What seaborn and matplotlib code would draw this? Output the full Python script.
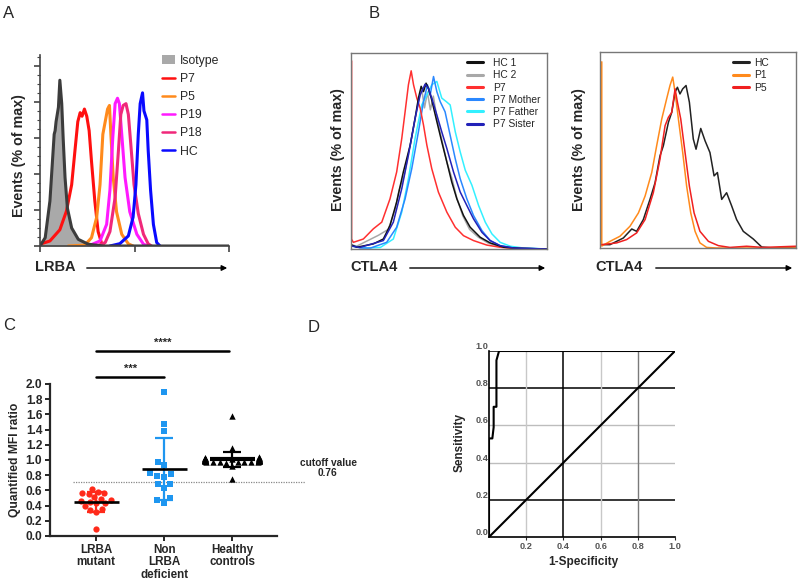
import numpy as np
import pandas as pd
import matplotlib
matplotlib.use("Agg")
import matplotlib.pyplot as plt
from matplotlib.patches import Patch
from matplotlib.lines import Line2D
from matplotlib.ticker import LogLocator, NullFormatter, MultipleLocator
import seaborn as sns

# ---- panel A: LRBA histograms (x in log10 decades, y in % of max)
iso_dec = [0.0, 0.11, 0.21, 0.30, 0.32, 0.34, 0.39, 0.42, 0.46, 0.49, 0.53, 0.58, 0.67, 0.81, 1.02, 1.34, 4.0]
iso_val = [0, 4.6, 25, 62, 64, 69, 77, 92, 79, 60, 38, 21, 10, 3.7, 1, 0, 0]
p7_dec = [0.0, 0.21, 0.42, 0.56, 0.67, 0.74, 0.80, 0.85, 0.89, 0.94, 0.99, 1.04, 1.09, 1.16, 1.23, 1.31, 1.36]
p7_val = [1, 2.8, 9, 19.4, 34, 53, 69, 74, 72, 76, 72, 64, 47, 25, 8, 1, 0]
p5_dec = [0.6, 0.95, 1.09, 1.20, 1.27, 1.33, 1.38, 1.43, 1.47, 1.50, 1.55, 1.62, 1.73, 1.87, 1.97]
p5_val = [0, 0.5, 4.6, 16, 34, 62, 69, 76, 78, 62, 38, 19, 6.5, 1.2, 0]
p19_dec = [1.02, 1.27, 1.41, 1.48, 1.54, 1.59, 1.64, 1.68, 1.73, 1.80, 1.90, 2.05, 2.19, 2.29]
p19_val = [0, 2.8, 12, 31, 60, 79, 82, 79, 62, 38, 19, 6.5, 1, 0]
p18_dec = [1.2, 1.38, 1.48, 1.59, 1.66, 1.71, 1.76, 1.82, 1.87, 1.92, 1.99, 2.08, 2.19, 2.29, 2.36]
p18_val = [0, 1.9, 8, 27, 53, 73, 78, 79, 73, 57, 34, 18, 6.5, 1.2, 0]
hcA_dec = [1.48, 1.69, 1.87, 1.97, 2.03, 2.08, 2.12, 2.17, 2.20, 2.26, 2.29, 2.34, 2.40, 2.47, 2.54]
hcA_val = [0, 1.3, 5.6, 16, 34, 62, 79, 85, 75, 70, 53, 31, 12, 1.9, 0]

# ---- panel B left: CTLA4 histograms
b1_p7_u = [0.3, 0.3, 1.2, 6.3, 11.4, 15.7, 19.9, 23.3, 25.9, 27.6, 29.3, 30.7, 31.9, 33.6, 35.3, 37.0, 38.7, 41.2, 44.6, 48.9, 53.2, 57.4, 62.5, 69.3, 76.0, 83.0, 100]
b1_p7_v = [96, 5, 3.4, 5.1, 10.3, 13.7, 25.6, 39.3, 56.4, 70, 83.8, 90.9, 83.8, 76.9, 71.8, 63.2, 53, 41, 29, 18.8, 11.1, 6.8, 4.3, 2, 0.9, 0.3, 0]
b1_hc1_u = [0.5, 3, 11.4, 16.5, 19.9, 23.3, 26.7, 30.2, 32.7, 34.4, 35.8, 37.0, 38.3, 39.5, 41.2, 43.8, 46.3, 48.9, 51.4, 54.0, 57.4, 60.8, 65.9, 71.0, 77.9, 86.4, 100]
b1_hc1_v = [2, 0.9, 2.6, 5.1, 12, 24, 39.3, 53, 66.7, 77, 83, 80.3, 84.6, 82, 76, 65, 54.7, 44.4, 34.2, 25.6, 17.1, 11.1, 6, 3.1, 0.9, 0.3, 0]
b1_hc2_u = [0.5, 3, 8, 14, 19, 22.5, 24.5, 27, 30, 32.5, 34.5, 36, 37.5, 39, 40.5, 42, 44, 46.5, 49, 51.5, 54, 57, 60.5, 65, 70, 77, 86, 100]
b1_hc2_v = [2, 1.5, 4, 7, 10, 20, 30, 37, 52, 65, 76, 82, 72, 80, 71, 78, 66, 55, 44, 36, 26, 17, 10, 6, 3, 1, 0.3, 0]
b1_mot_u = [0.5, 5, 10, 18.2, 23.3, 27.6, 31.0, 34.4, 37.0, 39.0, 40.4, 42.1, 43.8, 45.5, 48.0, 50.6, 53.2, 55.7, 59.1, 62.5, 66.8, 71.0, 76.1, 83.0, 100]
b1_mot_v = [1.5, 0.5, 0.5, 3.4, 11.1, 25.6, 41, 59.8, 75.2, 83.8, 78.6, 88, 80.3, 75.2, 70, 58, 46, 35.9, 25.6, 17.1, 9.4, 4.3, 1.7, 0.5, 0]
b1_fat_u = [0.5, 8, 15, 21.6, 25.9, 29.3, 32.7, 36.1, 38.7, 41.2, 43.8, 46.3, 48.6, 50.6, 53.2, 55.7, 58.3, 61.7, 65.1, 68.5, 71.9, 76.1, 81.3, 88, 100]
b1_fat_v = [1.5, 0.5, 0.8, 5.1, 18.8, 35.9, 56.4, 73.5, 78.6, 83.8, 85.5, 77, 75.2, 73.5, 59.8, 49.6, 40.2, 32.5, 22.2, 13.7, 7.7, 3.4, 1.4, 0.5, 0]
b1_sis_u = [0.5, 4.5, 16.5, 21.6, 25.9, 29.3, 32.7, 35.3, 37.8, 39.5, 41.2, 43.8, 46.3, 48.9, 52.3, 55.7, 59.1, 62.5, 66.8, 71.0, 76.1, 83.0, 100]
b1_sis_v = [1.5, 0.8, 4.3, 13.7, 30.8, 47.9, 66.7, 78.6, 84.1, 82, 77, 68.4, 59.8, 51.3, 39.3, 29.1, 22.2, 15.4, 8.5, 4.3, 1.7, 0.5, 0]

# ---- panel B right
b2_hc_u = [0.9, 5.1, 8.5, 11.9, 16.2, 18.7, 22.1, 25.5, 28.1, 30.6, 32.3, 34.9, 36.6, 38.3, 39.5, 40.8, 42.2, 43.9, 45.6, 47.6, 49.0, 51.4, 53.6, 56.1, 58.2, 59.9, 62.1, 64.6, 67.2, 69.7, 73.1, 78.2, 82.5, 88.4, 93.5, 100]
b2_hc_v = [1.7, 1.7, 3.4, 5.1, 9.7, 8.5, 14.5, 24.8, 33.3, 47, 52.1, 64.1, 69.2, 79.5, 82, 78.6, 81.2, 82.9, 74.4, 55.6, 50.4, 61, 54.7, 48.7, 36.8, 38.5, 24.8, 28.2, 21.4, 14.5, 8.5, 4.6, 0.5, 0, 0.3, 0]
b2_p1_u = [0.9, 0.9, 5.1, 10.2, 15.3, 19.6, 23.0, 26.4, 28.9, 31.5, 34.0, 35.7, 37.1, 38.3, 40.0, 42.2, 44.2, 46.3, 48.5, 51.0, 54.4, 59.5, 100]
b2_p1_v = [95, 1, 3.4, 6, 11.1, 17.9, 26.5, 38.5, 52.1, 65.8, 76.1, 82.9, 87.2, 79.5, 65.8, 48.7, 31.6, 17.9, 8.5, 2.6, 0.3, 0, 0]
b2_p5_u = [0.9, 8.5, 13.6, 18.7, 23.0, 27.2, 30.6, 33.2, 34.9, 36.6, 38.3, 39.5, 41.2, 43.4, 45.6, 48.0, 51.0, 55.3, 60.4, 66.3, 74.8, 83, 100]
b2_p5_v = [1.7, 2.6, 4.3, 7.7, 14.5, 28.2, 45.3, 62.4, 66.7, 69.2, 81.2, 74.4, 65.8, 48.7, 31.6, 17.9, 8.5, 3.4, 1.2, 0.3, 0.9, 0.3, 0.9]

# ---- panel C: quantified MFI ratio
groups = ["LRBA\nmutant", "Non\nLRBA\ndeficient", "Healthy\ncontrols"]
lrba_mut = [0.62, 0.58, 0.57, 0.56, 0.55, 0.51, 0.49, 0.47, 0.46, 0.45, 0.43, 0.43, 0.39, 0.36, 0.34, 0.32, 0.09]
non_lrba = [1.90, 1.48, 1.38, 0.98, 0.93, 0.82, 0.83, 0.78, 0.79, 0.68, 0.68, 0.63, 0.50, 0.47, 0.44]
healthy = [1.58, 1.16, 0.75, 0.92, 1.04, 1.03, 1.03, 1.02, 1.02, 1.02, 1.01, 1.01, 1.01, 1.01,
           1.00, 1.00, 1.00, 1.00, 1.00, 1.00, 1.00, 0.99, 0.99, 0.99, 0.99, 0.98, 0.98, 0.98,
           0.97, 0.97, 0.96, 1.00, 1.01, 0.99, 1.00, 1.02, 0.98, 1.00, 0.99, 1.01, 1.00, 0.99,
           1.00, 1.01, 0.98, 1.00]
cutoff = 0.71

# ---- panel D: ROC
fpr = [0, 0, 0.018, 0.025, 0.025, 0.04, 0.04, 0.054, 1.0]
tpr = [0, 0.53, 0.53, 0.59, 0.70, 0.70, 0.95, 1.0, 1.0]
diag = [0, 1]

sns.set_style("ticks")
plt.rcParams["font.family"] = ["Liberation Sans", "DejaVu Sans"]

W, H = 800, 581


def rect(l, t, r, b):
    return [l / W, 1 - b / H, (r - l) / W, (b - t) / H]


def fp(x, y):
    return (x / W, 1 - y / H)


fig = plt.figure(figsize=(8, 5.81), dpi=100)

# ================= A
axA = fig.add_axes(rect(40, 55, 229, 246))
colA = {"P7": "#ff1010", "P5": "#ff8a1c", "P19": "#ff1aff", "P18": "#f0287a", "HC": "#0a0aff"}
axA.fill_between(10 ** np.array(iso_dec), iso_val, color="#a9a9a9", lw=0)
dfA = pd.concat([
    pd.DataFrame({"x": 10 ** np.array(d), "y": v, "s": s})
    for s, d, v in [("P7", p7_dec, p7_val), ("P5", p5_dec, p5_val), ("P19", p19_dec, p19_val),
                    ("P18", p18_dec, p18_val), ("HC", hcA_dec, hcA_val)]
])
sns.lineplot(data=dfA, x="x", y="y", hue="s", palette=colA, sort=False, estimator=None,
             lw=2.2, legend=False, ax=axA)
sns.lineplot(x=10 ** np.array(iso_dec), y=iso_val, sort=False, estimator=None,
             color="#3c3c3c", lw=2.2, ax=axA)
axA.set_xscale("log")
axA.set_xlim(1, 1e4)
axA.set_ylim(0, 106)
axA.xaxis.set_major_locator(LogLocator(base=10))
axA.xaxis.set_minor_locator(LogLocator(base=10, subs=np.arange(2, 10)))
axA.xaxis.set_major_formatter(NullFormatter())
axA.xaxis.set_minor_formatter(NullFormatter())
axA.yaxis.set_major_locator(MultipleLocator(20))
axA.yaxis.set_minor_locator(MultipleLocator(5))
axA.set_yticklabels([])
axA.set_xlabel("")
axA.set_ylabel("")
for s in ["top", "right"]:
    axA.spines[s].set_visible(False)
for s in ["left", "bottom"]:
    axA.spines[s].set_color("#444444")
    axA.spines[s].set_linewidth(1.2)
axA.tick_params(which="major", length=4, width=1.2, color="#444444")
axA.tick_params(which="minor", length=2, width=0.8, color="#444444")
hA = [Patch(facecolor="#a9a9a9", edgecolor="none")] + \
     [Line2D([], [], color=c, lw=1.8) for c in colA.values()]
axA.legend(hA, ["Isotype"] + list(colA.keys()), loc="upper left", bbox_to_anchor=fp(162, 55),
           bbox_transform=fig.transFigure, frameon=False, fontsize=8.8, handlelength=1.1,
           handletextpad=0.35, labelspacing=0.5, borderpad=0, borderaxespad=0)

# ================= B
colB1 = {"HC 1": "#111111", "HC 2": "#a8a8a8", "P7": "#ff3030", "P7 Mother": "#2a88ff",
         "P7 Father": "#33f0ff", "P7 Sister": "#2222b8"}
colB2 = {"HC": "#222222", "P1": "#ff8a1c", "P5": "#f02020"}

axB1 = fig.add_axes(rect(351, 53, 547, 249))
dfB1 = pd.concat([
    pd.DataFrame({"x": u, "y": v, "s": s})
    for s, u, v in [("HC 2", b1_hc2_u, b1_hc2_v), ("P7 Father", b1_fat_u, b1_fat_v),
                    ("P7 Mother", b1_mot_u, b1_mot_v), ("P7", b1_p7_u, b1_p7_v),
                    ("HC 1", b1_hc1_u, b1_hc1_v), ("P7 Sister", b1_sis_u, b1_sis_v)]
])
sns.lineplot(data=dfB1, x="x", y="y", hue="s", palette=colB1, sort=False, estimator=None,
             lw=1.1, legend=False, ax=axB1)

axB2 = fig.add_axes(rect(600, 52, 796, 248))
dfB2 = pd.concat([
    pd.DataFrame({"x": u, "y": v, "s": s})
    for s, u, v in [("HC", b2_hc_u, b2_hc_v), ("P1", b2_p1_u, b2_p1_v), ("P5", b2_p5_u, b2_p5_v)]
])
sns.lineplot(data=dfB2, x="x", y="y", hue="s", palette=colB2, sort=False, estimator=None,
             lw=1.1, legend=False, ax=axB2)

for ax, cols, anchor, hl, tp in [(axB1, colB1, (467, 58), 1.6, 0.9), (axB2, colB2, (733, 58), 1.6, 0.5)]:
    ax.set_xlim(0, 100)
    ax.set_ylim(0, 100)
    ax.set_xticks([])
    ax.set_yticks([])
    ax.set_xlabel("")
    ax.set_ylabel("")
    for s in ax.spines.values():
        s.set_color("#777777")
        s.set_linewidth(1.0)
    hB = [Line2D([], [], color=c, lw=2.2) for c in cols.values()]
    ax.legend(hB, list(cols.keys()), loc="upper left", bbox_to_anchor=fp(*anchor),
              bbox_transform=fig.transFigure, frameon=False, fontsize=7.4, handlelength=hl,
              handletextpad=tp, labelspacing=0.22, borderpad=0, borderaxespad=0)

# axis titles with arrows
for x0, y0 in [(19, 156), (338, 150), (579, 150)]:
    fig.text(*fp(x0, y0), "Events (% of max)", rotation=90, ha="center", va="center",
             fontsize=10.3, fontweight="bold")
for txt, x0, a0, a1 in [("LRBA", 35, 84, 230), ("CTLA4", 350, 407, 548), ("CTLA4", 595, 653, 795)]:
    fig.text(*fp(x0, 267), txt, ha="left", va="center", fontsize=10.5, fontweight="bold")
    fig.add_artist(matplotlib.patches.FancyArrowPatch(fp(a0, 268), fp(a1, 268),
                   transform=fig.transFigure, arrowstyle="-|>", mutation_scale=8,
                   color="black", lw=1.0))

# ================= C
axC = fig.add_axes(rect(50, 384, 277, 536))
dfC = pd.DataFrame({
    "group": [groups[0]] * len(lrba_mut) + [groups[1]] * len(non_lrba) + [groups[2]] * len(healthy),
    "ratio": lrba_mut + non_lrba + healthy,
})
marks = ["o", "s", "^"]
colsC = ["#ff2a1a", "#1e96f0", "#000000"]
sizes = [4.5, 5.0, 4.6]
for g, m, c, sz in zip(groups, marks, colsC, sizes):
    sns.swarmplot(data=dfC[dfC.group == g], x="group", y="ratio", order=groups, marker=m,
                  color=c, size=sz, linewidth=0, ax=axC, warn_thresh=1.0, clip_on=False)
for i, (g, c) in enumerate(zip(groups, colsC)):
    vals = dfC.loc[dfC.group == g, "ratio"]
    m, sd = vals.mean(), vals.std()
    axC.hlines(m, i - 0.33, i + 0.33, color="black", lw=1.9 if i < 2 else 3.0, zorder=5)
    axC.errorbar(i, m, yerr=sd, color=c, capsize=6.5, capthick=1.6, lw=1.6, zorder=4)
axC.set_xlim(-0.68, 2.66)
axC.set_ylim(0, 2.0)
axC.set_yticks(np.arange(0, 2.01, 0.2))
axC.set_yticklabels([f"{t:.1f}" for t in np.arange(0, 2.01, 0.2)], fontsize=8.6, fontweight="bold")
axC.set_xticklabels(groups, fontsize=8.4, fontweight="bold", linespacing=1.05)
axC.set_xlabel("")
axC.set_ylabel("Quantified MFI ratio", fontsize=8.7, fontweight="bold", labelpad=3)
for s in ["top", "right"]:
    axC.spines[s].set_visible(False)
for s in ["left", "bottom"]:
    axC.spines[s].set_linewidth(1.6)
axC.tick_params(length=3.5, width=1.4, pad=2)
axC.plot([-0.34, 3.07], [cutoff, cutoff], ls=(0, (1, 1)), color="#888888", lw=0.9,
         clip_on=False, zorder=1)
fig.text(*fp(328, 468), "cutoff value\n0.76", ha="center", va="center", fontsize=7.3,
         fontweight="bold", linespacing=1.1)
for x0, x1, y, star in [(0, 1, 2.09, "***"), (0, 1.95, 2.43, "****")]:
    axC.plot([x0, x1], [y, y], color="black", lw=1.8, clip_on=False)
    axC.text((x0 + x1) / 2, y + 0.05, star, ha="center", va="bottom", fontsize=8, fontweight="bold")

# ================= D
axD = fig.add_axes(rect(489, 351, 675, 537))
hgrid = {0.2: "#000000", 0.4: "#bdbdbd", 0.6: "#bdbdbd", 0.8: "#000000", 1.0: "#000000"}
vgrid = {0.2: "#c8c8c8", 0.4: "#000000", 0.6: "#c8c8c8", 0.8: "#7a7a7a"}
for yv, c in hgrid.items():
    axD.axhline(yv, color=c, lw=1.0 if c != "#000000" else 1.1, zorder=1)
for xv, c in vgrid.items():
    axD.axvline(xv, color=c, lw=1.0 if c != "#000000" else 1.1, zorder=1)
sns.lineplot(x=diag, y=diag, color="black", lw=1.5, ax=axD, zorder=3)
sns.lineplot(x=fpr, y=tpr, color="black", lw=1.5, sort=False, estimator=None, ax=axD, zorder=3)
axD.set_xlim(0, 1)
axD.set_ylim(0, 1)
axD.set_xticks([0.2, 0.4, 0.6, 0.8, 1.0])
axD.set_xticklabels(["0.2", "0.4", "0.6", "0.8", "1.0"], fontsize=6.6, color="#555555",
                    fontweight="bold")
axD.set_yticks([0, 0.2, 0.4, 0.6, 0.8, 1.0])
axD.set_yticklabels(["0.0", "0.2", "0.4", "0.6", "0.8", "1.0"], fontsize=6.6, color="#555555",
                    fontweight="bold", va="bottom")
axD.tick_params(axis="x", length=2, width=0.8, pad=1.5)
axD.tick_params(axis="y", length=0, pad=0.5)
for s in ["top", "right"]:
    axD.spines[s].set_visible(False)
for s in ["left", "bottom"]:
    axD.spines[s].set_color("black")
    axD.spines[s].set_linewidth(1.2)
axD.set_xlabel("")
axD.set_ylabel("")
fig.text(*fp(460, 443), "Sensitivity", rotation=90, ha="center", va="center",
         fontsize=8.5, fontweight="bold")
fig.text(*fp(583, 562), "1-Specificity", ha="center", va="center", fontsize=8.5,
         fontweight="bold")

# panel letters
for lab, x0, y0 in [("A", 9, 14), ("B", 374, 14), ("C", 9, 326), ("D", 314, 328)]:
    fig.text(*fp(x0, y0), lab, ha="center", va="center", fontsize=12)

fig.savefig("out.png", dpi=100)
